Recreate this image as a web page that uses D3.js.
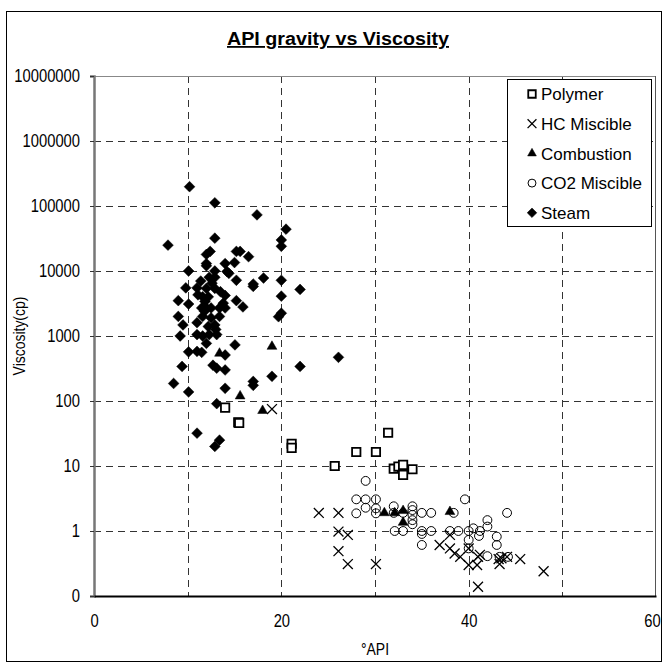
<!DOCTYPE html>
<html><head><meta charset="utf-8">
<script src="https://cdn.jsdelivr.net/npm/d3@7"></script>
<style>body{margin:0;background:#fff}</style>
</head><body>
<script>
// ---- data ----
const xTicks = [0, 20, 40, 60];
const xGrid = [10, 20, 30, 40, 50];
const yTicks = [0.1, 1, 10, 100, 1000, 10000, 100000, 1000000, 10000000];
const seriesNames = ["Polymer", "HC Miscible", "Combustion", "CO2 Miscible", "Steam"];

const polymerX = [14.0, 15.4, 15.5, 21.1, 21.1, 25.7, 28.0, 30.1, 31.4, 32.0, 32.5, 33.0, 33.0, 34.0];
const polymerY = [79, 47, 46, 22, 19, 10, 16.4, 16.4, 32.5, 9.1, 9.8, 10.4, 7.3, 8.9];

const hcX = [19.0, 24.0, 26.1, 26.1, 27.1, 26.1, 27.1, 30.1, 36.9, 38.0, 38.5, 39.1, 38.0, 40.0, 40.0, 40.9, 41.0, 41.2, 41.0, 43.2, 43.3, 43.5, 44.1, 45.5, 48.0];
const hcY = [75, 1.9, 1.9, 0.98, 0.87, 0.49, 0.31, 0.31, 0.61, 0.54, 0.45, 0.40, 0.87, 0.54, 0.30, 0.30, 0.40, 0.43, 0.139, 0.37, 0.31, 0.38, 0.40, 0.37, 0.24];

const combX = [19.0, 13.4, 15.6, 18.0, 31.0, 32.1, 33.0, 33.0, 38.0];
const combY = [690, 540, 119, 71, 1.9, 1.9, 2.05, 1.35, 1.98];

const co2X = [29.0, 28.0, 29.0, 30.1, 29.0, 30.1, 28.0, 30.1, 32.0, 34.0, 34.0, 34.0, 34.0, 34.0, 35.0, 36.0, 32.1, 33.0, 35.0, 36.0, 35.0, 35.0, 39.6, 38.4, 44.1, 38.0, 38.9, 40.0, 40.5, 41.2, 40.0, 41.1, 42.0, 42.0, 43.0, 43.0, 40.0, 42.0, 43.3, 44.2, 32.0, 33.0];
const co2Y = [5.9, 3.07, 3.07, 3.07, 2.28, 2.23, 1.87, 1.87, 2.4, 2.4, 2.1, 1.77, 1.47, 1.27, 1.9, 1.9, 1.0, 1.0, 1.0, 1.0, 0.9, 0.61, 3.07, 1.9, 1.9, 1.0, 1.0, 1.0, 1.1, 1.0, 0.73, 0.84, 1.47, 1.17, 0.82, 0.61, 0.54, 0.41, 0.40, 0.40, 1.9, 1.9];

const steamX = [10.2, 12.9, 17.4, 20.5, 20.0, 20.0, 7.9, 12.9, 12.4, 12.0, 15.2, 15.6, 15.0, 16.5, 12.0, 12.0, 10.1, 12.9, 14.0, 14.2, 14.4, 12.3, 12.9, 15.2, 18.1, 20.0, 17.0, 17.0, 22.0, 9.8, 11.0, 12.0, 12.9, 11.1, 14.0, 20.0, 9.0, 10.1, 11.85, 15.2, 15.9,
  11.6, 12.2, 11.5, 12.0, 12.5, 13.4, 14.0, 20.0, 19.7, 9.0, 9.5, 11.0, 11.6, 12.5, 13.4, 12.9, 13.0, 9.2, 11.0, 11.6, 12.3, 13.1, 12.0, 15.05, 10.1, 11.0, 11.5, 14.0, 9.4, 12.7, 13.1, 14.0, 22.0, 19.0, 17.0, 17.0, 8.5, 14.0, 10.1, 13.1, 11.0, 13.4, 12.9, 26.1,
  11.4, 12.6, 13.5, 11.8, 13.8, 12.2];
const steamY = [198000, 112000, 73000, 44000, 30000, 24000, 25000, 32000, 20000, 18000, 20000, 20000, 13500, 16600, 13000, 12000, 10000, 10000, 13000, 9800, 9200, 8000, 8000, 7200, 7800, 7200, 6300, 5800, 5200, 5500, 5500, 5400, 5400, 4300, 4200, 4100, 3500, 3100, 3400, 3500, 2800,
  4000, 4000, 2700, 2700, 2700, 2700, 2700, 2240, 1980, 2000, 1480, 1600, 2000, 1900, 2000, 1480, 1260, 1000, 1050, 1000, 1050, 1050, 770, 730, 570, 580, 560, 510, 340, 355, 320, 300, 340, 240, 200, 174, 186, 157, 138, 91, 32, 25, 20, 470,
  7000, 6500, 4800, 2400, 3200, 1400];

// ---- chart ----
const W = 663, H = 669;
const svg = d3.select("body").append("svg").attr("width", W).attr("height", H);
const FONT = "'Liberation Sans', Arial, sans-serif";
const NARROW = 0.82;
function narrow(sel) {
  sel.each(function () {
    const w = this.getComputedTextLength();
    d3.select(this).attr("textLength", w * NARROW).attr("lengthAdjust", "spacingAndGlyphs");
  });
}

svg.append("rect").attr("x", 6.5).attr("y", 11.5).attr("width", 655).attr("height", 650)
  .attr("fill", "#fff").attr("stroke", "#000").attr("stroke-width", 1);

const L = 94, R = 656, T = 76, B = 596;
const x = d3.scaleLinear().domain([0, 60]).range([L, R]);
const y = d3.scaleLog().domain([0.1, 10000000]).range([B, T]);

// gridlines
const grid = svg.append("g").attr("stroke", "#333").attr("stroke-width", 1).attr("stroke-dasharray", "7,5");
grid.selectAll("line.v").data(xGrid).join("line").attr("class", "v")
  .attr("x1", d => Math.round(x(d)) + 0.5).attr("x2", d => Math.round(x(d)) + 0.5).attr("y1", T).attr("y2", B);
grid.selectAll("line.h").data(yTicks.slice(1, -1)).join("line").attr("class", "h")
  .attr("y1", d => Math.round(y(d)) + 0.5).attr("y2", d => Math.round(y(d)) + 0.5).attr("x1", L).attr("x2", R);

// plot border
svg.append("line").attr("x1", L).attr("x2", R).attr("y1", T + 0.5).attr("y2", T + 0.5).attr("stroke", "#888");
svg.append("line").attr("x1", R - 0.5).attr("x2", R - 0.5).attr("y1", T).attr("y2", B).attr("stroke", "#555");

// axes
const yAxis = d3.axisLeft(y).tickValues(yTicks).tickSize(4).tickPadding(10)
  .tickFormat(d => d < 1 ? "0" : d3.format("d")(d));
const gy = svg.append("g").attr("transform", `translate(${L},0)`).call(yAxis);
gy.select(".domain").attr("stroke", "#777").attr("stroke-width", 2.5);
gy.selectAll(".tick line").attr("stroke", "#333");
gy.selectAll("text").attr("font-family", FONT).attr("font-size", 18).attr("fill", "#000").call(narrow);

const xAxis = d3.axisBottom(x).tickValues(xTicks).tickSize(0).tickPadding(18);
const gx = svg.append("g").attr("transform", `translate(0,${B})`).call(xAxis);
gx.select(".domain").attr("stroke", "#000").attr("stroke-width", 2);
gx.selectAll("text").attr("font-family", FONT).attr("font-size", 18).attr("fill", "#000").call(narrow);
gx.selectAll(".tick").filter(d => d === 60).select("text").attr("dx", -4);

// titles
svg.append("text").attr("x", 338).attr("y", 45).attr("text-anchor", "middle")
  .attr("font-family", FONT).attr("font-weight", "bold").attr("font-size", 18)
  .attr("text-decoration", "underline").attr("textLength", 222).attr("lengthAdjust", "spacingAndGlyphs")
  .text("API gravity vs Viscosity");
svg.append("text").attr("x", (L + R) / 2).attr("y", 655).attr("text-anchor", "middle")
  .attr("font-family", FONT).attr("font-size", 17).text("°API").call(narrow);
svg.append("text").attr("transform", `translate(25,${(T + B) / 2}) rotate(-90)`).attr("text-anchor", "middle")
  .attr("font-family", FONT).attr("font-size", 17).text("Viscosity(cp)").call(narrow);

// marker styles
const sq45 = { draw(ctx, size) { const r = Math.sqrt(size / 2); ctx.moveTo(0, -r); ctx.lineTo(r, 0); ctx.lineTo(0, r); ctx.lineTo(-r, 0); ctx.closePath(); } };
const styles = [
  { type: d3.symbolSquare, size: 70, fill: "#fff", stroke: "#000", sw: 1.8 },
  { type: d3.symbolTimes, size: 66, fill: "none", stroke: "#000", sw: 1.3 },
  { type: d3.symbolTriangle, size: 42, fill: "#000", stroke: "#000", sw: 0.5 },
  { type: d3.symbolCircle, size: 62, fill: "none", stroke: "#000", sw: 1 },
  { type: sq45, size: 58, fill: "#000", stroke: "#000", sw: 0.5 }
];
const seriesData = [
  polymerX.map((v, i) => [v, polymerY[i]]),
  hcX.map((v, i) => [v, hcY[i]]),
  combX.map((v, i) => [v, combY[i]]),
  co2X.map((v, i) => [v, co2Y[i]]),
  steamX.map((v, i) => [v, steamY[i]])
];
const drawOrder = [4, 3, 2, 1, 0];
drawOrder.forEach(si => {
  const st = styles[si];
  svg.append("g").selectAll("path").data(seriesData[si]).join("path")
    .attr("transform", d => `translate(${x(d[0])},${y(d[1])})`)
    .attr("d", d3.symbol().type(st.type).size(st.size))
    .attr("fill", st.fill).attr("stroke", st.stroke).attr("stroke-width", st.sw);
});

// legend
const lg = svg.append("g");
lg.append("rect").attr("x", 507.5).attr("y", 79.5).attr("width", 144).attr("height", 147)
  .attr("fill", "#fff").attr("stroke", "#000");
seriesNames.forEach((n, i) => {
  const st = styles[i];
  const yy = 94 + i * 29.7;
  lg.append("path").attr("transform", `translate(532,${yy})`)
    .attr("d", d3.symbol().type(st.type).size(st.size * 0.8))
    .attr("fill", st.fill).attr("stroke", st.stroke).attr("stroke-width", st.sw);
  lg.append("text").attr("x", 541).attr("y", yy).attr("dy", "0.36em")
    .attr("font-family", FONT).attr("font-size", 17).text(n);
});
</script>
</body></html>
